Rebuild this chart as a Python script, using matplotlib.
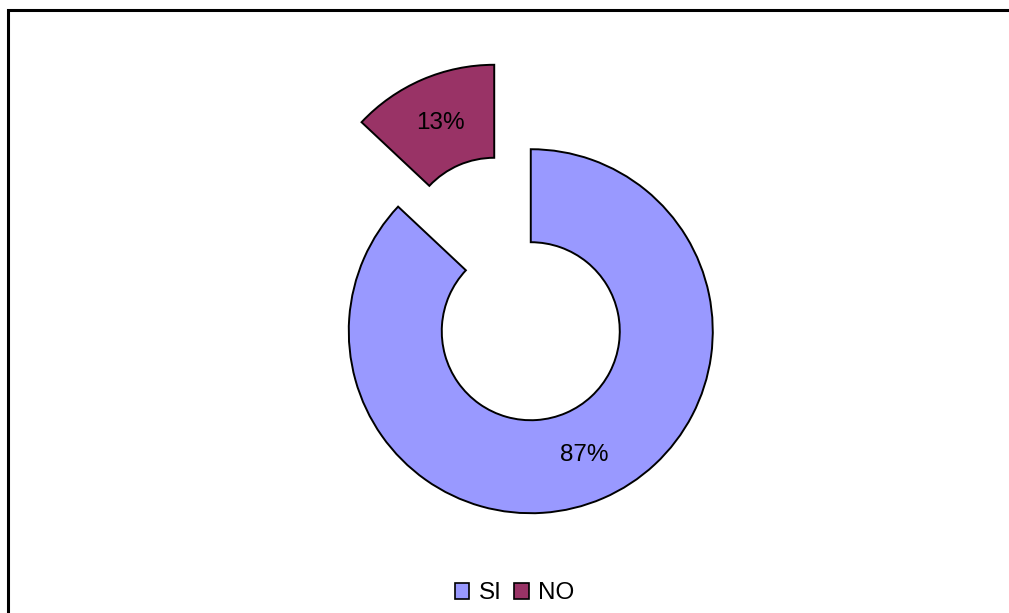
import matplotlib.pyplot as plt
from matplotlib.patches import Patch, Rectangle

labels = ["SI", "NO"]
values = [87, 13]
colors = ["#9999FF", "#993366"]
explode = [46, 46]

W, H = 1009, 613


def main():
    plt.rcParams['font.family'] = ['Liberation Sans', 'DejaVu Sans']
    fig = plt.figure(figsize=(W / 100, H / 100), dpi=100)
    ax = fig.add_axes([0, 0, 1, 1])

    # pie in pixel-like data units (y up)
    wedges, texts, autotexts = ax.pie(
        values, colors=colors, explode=explode, radius=182,
        center=(512.5, 324), startangle=90, counterclock=False,
        autopct='%1.0f%%', pctdistance=0.74,
        wedgeprops=dict(width=93, edgecolor='black', linewidth=1.4),
        textprops=dict(fontsize=17.5, color='black'),
    )
    ax.set_xlim(0, W)
    ax.set_ylim(0, H)
    ax.set_aspect('equal')
    ax.axis('off')

    # outer frame (right and bottom edges fall outside the picture)
    fig.patches.append(Rectangle((7.5 / W, -0.2), 1.2, 1.2 - 9.5 / H,
                                 transform=fig.transFigure, fill=False,
                                 edgecolor='black', linewidth=2.2))

    handles = [Patch(facecolor=c, edgecolor='black', linewidth=1.2) for c in colors]
    fig.legend(handles, labels, loc='center', bbox_to_anchor=(0.51, 0.032),
               ncol=2, frameon=False, fontsize=17.5, handlelength=0.6,
               handleheight=0.6, handletextpad=0.4, columnspacing=0.5)

    fig.savefig("out.png", dpi=100)


if __name__ == '__main__':
    main()
